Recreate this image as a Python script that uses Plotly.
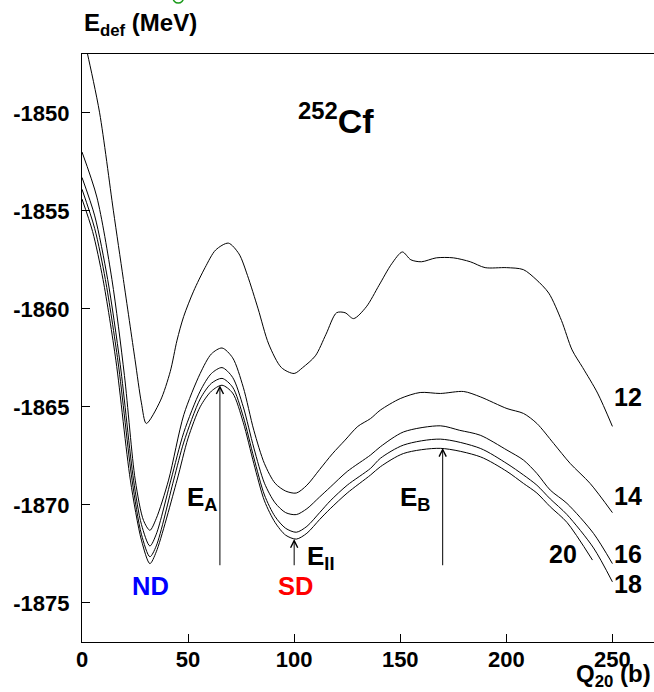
import plotly.graph_objects as go

# ---------------- data ----------------
q12 = [0, 2.6, 8.3, 14.8, 19.5, 25, 28, 30.3, 36.9, 41.6, 44.8, 47.9, 52.6, 58, 63, 69, 74, 78, 83, 88, 94, 100,
       104, 110, 115, 120, 124, 128, 134, 140, 146, 151, 155, 160, 167, 175, 183, 190, 200, 208, 214, 220, 226, 231,
       236, 243, 250]
e12 = [-1845.8, -1847.0, -1850.0, -1855.0, -1858.5, -1862.6, -1864.8, -1865.85, -1864.7, -1863.2, -1861.6,
       -1860.4, -1859.1, -1857.9, -1857.0, -1856.65, -1857.2, -1858.3, -1860.0, -1861.8, -1863.0, -1863.3,
       -1863.0, -1862.4, -1861.3, -1860.2, -1860.2, -1860.5, -1859.9, -1858.8, -1857.7, -1857.1, -1857.5, -1857.6,
       -1857.4, -1857.4, -1857.6, -1857.9, -1857.9, -1858.0, -1858.5, -1859.2, -1860.6, -1862.1, -1863.0, -1864.3,
       -1866.0]

q14 = [0, 7, 14.1, 20, 25.1, 29, 32, 35, 40.8, 48, 55.7, 61, 66, 71, 76, 81, 86, 91, 96, 101, 106, 112, 118, 124,
       130, 136, 140.6, 150, 159.4, 168.9, 179.9, 187.7, 200.3, 208.1, 214.4, 222.3, 230.1, 239.5, 250]
e14 = [-1852.0, -1854.3, -1858.5, -1863.4, -1868.74, -1870.8, -1871.3, -1870.7, -1868.74, -1865.4, -1863.3,
       -1862.3, -1862.0, -1862.5, -1864.0, -1866.2, -1867.9, -1868.9, -1869.3, -1869.4, -1869.0, -1868.2, -1867.4,
       -1866.7, -1866.0, -1865.6, -1865.17, -1864.58, -1864.27, -1864.32, -1864.22, -1864.49, -1865.09, -1865.34,
       -1865.85, -1866.87, -1867.89, -1868.91, -1870.4]

q16 = [0, 6, 12.1, 18, 24.3, 28, 32, 35, 41.9, 48, 55.7, 61, 66, 71, 76, 81, 86, 91, 96, 101, 106, 112, 117, 125,
       136, 140.6, 151.6, 168.9, 178, 187.7, 200.3, 208.1, 214.4, 220.7, 228.6, 241.1, 250]
e16 = [-1853.3, -1855.26, -1858.5, -1862.83, -1868.74, -1871.0, -1872.1, -1871.5, -1868.74, -1866.3, -1864.2,
       -1863.3, -1863.0, -1863.5, -1865.0, -1867.1, -1868.9, -1869.9, -1870.4, -1870.5, -1870.2, -1869.6, -1869.1,
       -1868.3, -1867.46, -1867.04, -1866.28, -1865.97, -1866.2, -1866.45, -1867.21, -1867.72, -1868.4, -1869.25,
       -1869.93, -1871.46, -1873.0]

q18 = [0, 6, 11.0, 17, 23.6, 28, 32, 35, 43.2, 48, 55.7, 61, 66, 71, 76, 81, 86, 91, 96, 101, 106, 112, 117, 125,
       136, 140.6, 151.6, 168.9, 187.7, 200.3, 208.1, 214.4, 220.7, 228.6, 241.1, 250]
e18 = [-1853.9, -1855.91, -1858.5, -1862.72, -1868.74, -1871.5, -1872.65, -1872.1, -1868.74, -1866.8, -1864.6,
       -1863.8, -1863.55, -1864.0, -1865.5, -1867.6, -1869.5, -1870.6, -1871.2, -1871.4, -1871.1, -1870.4, -1869.8,
       -1869.0, -1868.14, -1867.63, -1866.95, -1866.65, -1867.12, -1867.9, -1868.48, -1869.0, -1869.7, -1870.5,
       -1872.2, -1873.93]

q20 = [0, 5, 9.9, 16, 22.8, 28, 32, 35, 44.8, 50, 55.7, 61, 66, 71, 76, 81, 86, 91, 96, 101, 106, 112, 117, 125,
       136, 140.6, 151.6, 168.9, 187.7, 200.3, 208.1, 214.4, 220.7, 228.6, 240.6]
e20 = [-1854.4, -1856.06, -1858.5, -1862.65, -1868.74, -1871.8, -1873.0, -1872.4, -1868.74, -1866.6, -1865.0,
       -1864.2, -1863.9, -1864.3, -1865.8, -1867.9, -1869.8, -1870.9, -1871.55, -1871.75, -1871.45, -1870.75, -1870.2,
       -1869.4, -1868.48, -1868.06, -1867.38, -1867.12, -1867.55, -1868.3, -1868.91, -1869.4, -1870.1, -1870.9,
       -1872.82]

curve_names = ["12", "14", "16", "18", "20"]
label_q = [257.2, 257.2, 257.2, 257.2, 226.6]
label_e = [-1864.5, -1869.55, -1872.5, -1874.05, -1872.5]

x_tickvals = [0, 50, 100, 150, 200, 250]
x_ticktext = ["0", "50", "100", "150", "200", "250"]
y_tickvals = [-1850, -1855, -1860, -1865, -1870, -1875]
y_ticktext = ["-1850", "-1855", "-1860", "-1865", "-1870", "-1875"]

# arrows: (x, y_tail, y_tip)
arrow_q = [65, 100, 170]
arrow_tail = [-1873.16, -1873.16, -1873.16]
arrow_tip = [-1863.9, -1871.75, -1867.1]

FONT = "Liberation Sans, Arial, Helvetica, sans-serif"

fig = go.Figure()
for q, e in [(q12, e12), (q14, e14), (q16, e16), (q18, e18), (q20, e20)]:
    fig.add_trace(go.Scatter(x=q, y=e, mode="lines", line=dict(color="black", width=1, shape="spline", smoothing=0.8),
                             showlegend=False, hoverinfo="skip"))

ann = []
for name, lq, le in zip(curve_names, label_q, label_e):
    ann.append(dict(x=lq, y=le, xref="x", yref="y", text=name, showarrow=False,
                    font=dict(family=FONT, size=25, color="black", weight="bold")))

for aq, at, ap in zip(arrow_q, arrow_tail, arrow_tip):
    ann.append(dict(x=aq, y=ap, ax=aq, ay=at, xref="x", yref="y", axref="x", ayref="y", text="",
                    showarrow=True, arrowhead=5, arrowsize=1.4, arrowwidth=1, arrowcolor="black", standoff=0))

# barrier labels
ann.append(dict(x=64.6, y=-1869.7, xref="x", yref="y", xanchor="right", yanchor="middle",
                text="E<sub>A</sub>", showarrow=False, font=dict(family=FONT, size=26, color="black", weight="bold")))
ann.append(dict(x=165.1, y=-1869.7, xref="x", yref="y", xanchor="right", yanchor="middle",
                text="E<sub>B</sub>", showarrow=False, font=dict(family=FONT, size=26, color="black", weight="bold")))
ann.append(dict(x=105.3, y=-1872.7, xref="x", yref="y", xanchor="left", yanchor="middle",
                text="E<sub>II</sub>", showarrow=False, font=dict(family=FONT, size=26, color="black", weight="bold")))
ann.append(dict(x=32.2, y=-1874.15, xref="x", yref="y", text="ND", showarrow=False,
                font=dict(family=FONT, size=25.5, color="#0000ff", weight="bold")))
ann.append(dict(x=100.8, y=-1874.15, xref="x", yref="y", text="SD", showarrow=False,
                font=dict(family=FONT, size=25.5, color="#ff0000", weight="bold")))
ann.append(dict(x=119.6, y=-1850.3, xref="x", yref="y", text="<sup>252</sup>Cf", showarrow=False,
                font=dict(family=FONT, size=34, color="black", weight="bold")))

# axis titles
ann.append(dict(x=0, y=1.021, xref="paper", yref="paper", xanchor="left", yanchor="bottom",
                text="E<sub>def</sub> (MeV)", showarrow=False,
                font=dict(family=FONT, size=24, color="black", weight="bold")))
ann.append(dict(x=0.998, y=-0.087, xref="paper", yref="paper", xanchor="right", yanchor="bottom",
                text="Q<sub>20</sub> (b)", showarrow=False,
                font=dict(family=FONT, size=24, color="black", weight="bold")))

fig.update_layout(
    width=654, height=692,
    margin=dict(l=82, r=0, t=54, b=50),
    paper_bgcolor="white", plot_bgcolor="white",
    font=dict(family=FONT, color="black"),
    annotations=ann,
    shapes=[dict(type="circle", xref="paper", yref="paper", x0=0.159, x1=0.1775, y0=1.0867, y1=1.1054,
                 line=dict(color="#1a9a1a", width=1.5))],
    xaxis=dict(range=[0, 269.6], showgrid=False, zeroline=False, showline=True, linecolor="black", linewidth=1.2,
               mirror=True, ticks="inside", ticklen=8, tickcolor="black", tickwidth=1,
               tickvals=x_tickvals, ticktext=x_ticktext, ticklabelstandoff=-3,
               tickfont=dict(family=FONT, size=22, color="black", weight="bold")),
    yaxis=dict(range=[-1877, -1847], showgrid=False, zeroline=False, showline=True, linecolor="black", linewidth=1.2,
               ticks="inside", ticklen=8, tickcolor="black", tickwidth=1,
               tickvals=y_tickvals, ticktext=y_ticktext, ticklabelstandoff=7,
               tickfont=dict(family=FONT, size=22, color="black", weight="bold")),
)

fig.write_html("out.html")
